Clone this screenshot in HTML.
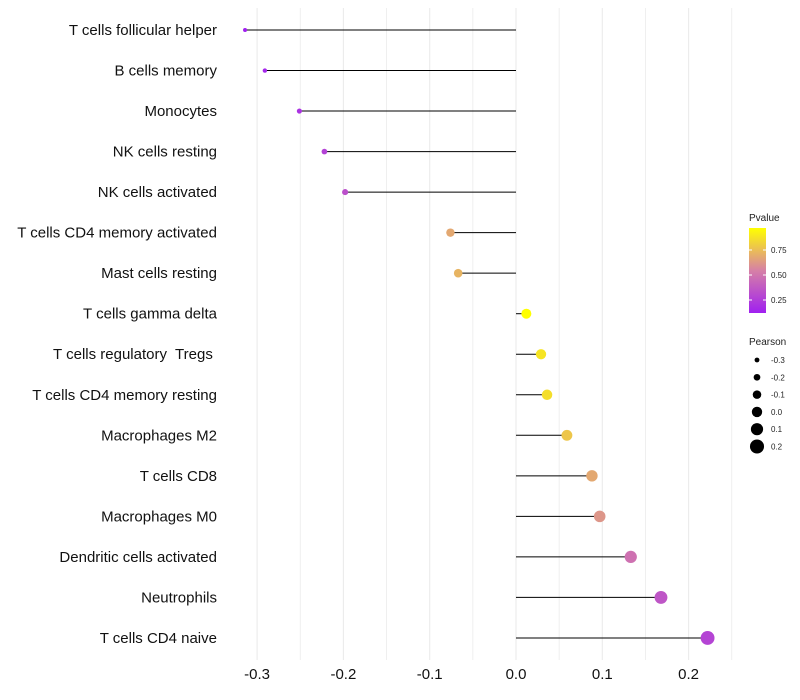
<!DOCTYPE html>
<html><head><meta charset="utf-8"><style>
html,body{margin:0;padding:0;background:#fff;}
svg{display:block;font-family:"Liberation Sans",sans-serif;}
</style></head><body>
<svg id="chart" width="800" height="700"></svg>
<script>
const categories=["T cells follicular helper","B cells memory","Monocytes","NK cells resting","NK cells activated","T cells CD4 memory activated","Mast cells resting","T cells gamma delta","T cells regulatory  Tregs ","T cells CD4 memory resting","Macrophages M2","T cells CD8","Macrophages M0","Dendritic cells activated","Neutrophils","T cells CD4 naive"];
const pearson=[-0.314,-0.291,-0.251,-0.222,-0.198,-0.076,-0.067,0.012,0.029,0.036,0.059,0.088,0.097,0.133,0.168,0.222];
const pvalue=[0.12,0.15,0.2,0.27,0.33,0.68,0.72,0.97,0.88,0.86,0.78,0.68,0.62,0.48,0.36,0.28];
const xTicks=[-0.3,-0.2,-0.1,0.0,0.1,0.2];
const pTicks=[0.25,0.50,0.75];
const sizeLegend=[-0.3,-0.2,-0.1,0.0,0.1,0.2];

const NS="http://www.w3.org/2000/svg";
const svg=document.getElementById('chart');
function mk(t,a,p){const e=document.createElementNS(NS,t);for(const k in a)e.setAttribute(k,a[k]);(p||svg).appendChild(e);return e;}
const x=v=>516+v*863;
const y=i=>30+i*40.53;
const pMin=0.12,pMax=0.97;
function col(p){let t=(p-pMin)/(pMax-pMin);t=Math.max(0,Math.min(1,t));
 const stops=[[0,[160,32,240]],[0.5,[214,128,166]],[1,[255,255,0]]];
 let a=stops[0],b=stops[1];if(t>0.5){a=stops[1];b=stops[2];}
 const u=(t-a[0])/(b[0]-a[0]);
 return 'rgb('+a[1].map((c,k)=>Math.round(c+(b[1][k]-c)*u)).join(',')+')';}
const r=v=>2+(v+0.314)*9.2;

// grid (vertical only)
for(let k=0;k<=11;k++){const v=-0.3+k*0.05;const g=mk('line',{x1:x(v),x2:x(v),y1:8,y2:660,stroke:'#ebebeb','stroke-width':k%2===0?1.1:0.8});
}
// ticks
xTicks.forEach(v=>{const t=mk('text',{x:x(v),y:679,'text-anchor':'middle','font-size':15,fill:'#111'});t.textContent=v.toFixed(1);
});
categories.forEach((c,i)=>{const t=mk('text',{x:217,y:y(i)+5,'text-anchor':'end','font-size':15,fill:'#111',style:'white-space:pre'});t.textContent=c;
});
// lollipops
categories.forEach((c,i)=>{
 const l=mk('line',{x1:x(0),x2:x(pearson[i]),y1:y(i),y2:y(i),stroke:'#000','stroke-width':1});
 
 const d=mk('circle',{cx:x(pearson[i]),cy:y(i),r:r(pearson[i]),fill:col(pvalue[i])});
 
});
// colour legend
const t1=mk('text',{x:749,y:221,'font-size':10,fill:'#222'});t1.textContent='Pvalue';

const defs=mk('defs',{});const lg=mk('linearGradient',{id:'pg',x1:0,y1:1,x2:0,y2:0},defs);
[0,0.25,0.5,0.75,1].forEach(s=>mk('stop',{offset:s,'stop-color':col(pMin+s*(pMax-pMin))},lg));
const cb=mk('rect',{x:749,y:228,width:17,height:85,fill:'url(#pg)'});

const py=p=>313-(p-pMin)/(pMax-pMin)*85;
pTicks.forEach(p=>{mk('line',{x1:749,x2:752,y1:py(p),y2:py(p),stroke:'#fff'});mk('line',{x1:763,x2:766,y1:py(p),y2:py(p),stroke:'#fff'});
 const t=mk('text',{x:771,y:py(p)+3,'font-size':8,fill:'#222'});t.textContent=p.toFixed(2);
 });
// size legend
const t2=mk('text',{x:749,y:345,'font-size':10,fill:'#222'});t2.textContent='Pearson';

sizeLegend.forEach((v,k)=>{const cy=360+k*17.3;
 const c=mk('circle',{cx:757,cy:cy,r:r(v)+0.3,fill:'#000'});
 const t=mk('text',{x:771,y:cy+3,'font-size':8,fill:'#222'});t.textContent=v.toFixed(1);
 });
</script>
</body></html>
